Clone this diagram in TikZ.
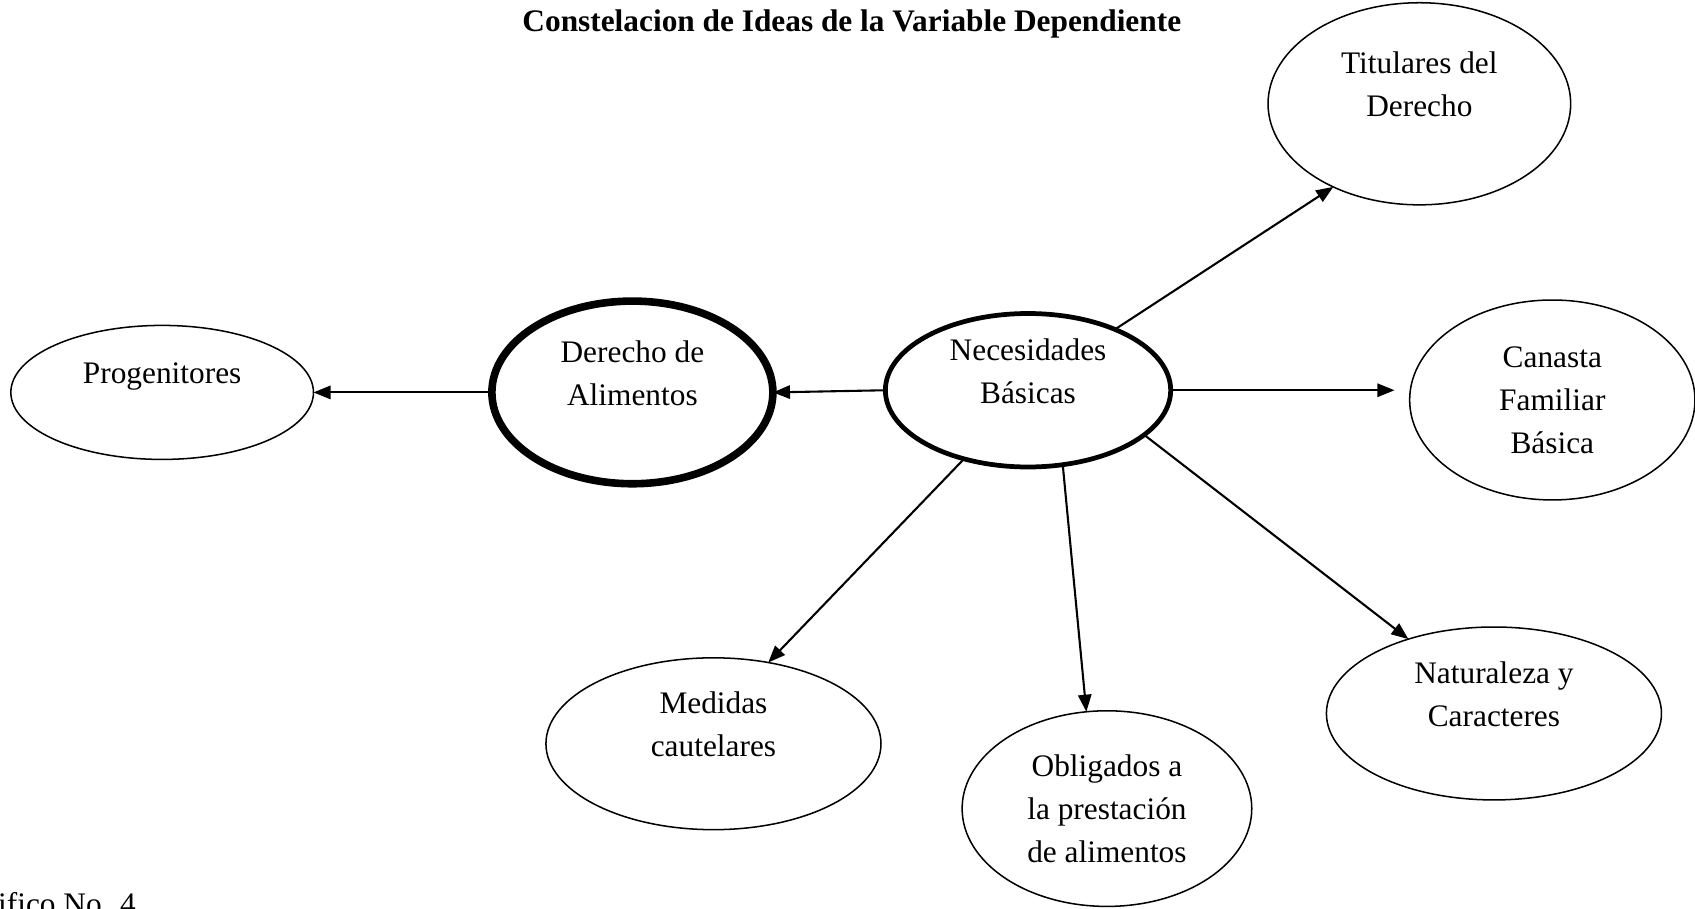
\documentclass[tikz,border=0pt]{standalone}
\usepackage{fontspec}
\setmainfont{Liberation Serif}
\usetikzlibrary{arrows.meta}
\usetikzlibrary{shapes.geometric}

\tikzset{
  idea/.style={draw,ellipse,inner sep=0pt,outer sep=0pt,line width=0.8pt,align=center,
    font=\fontsize{16.5}{22.7}\selectfont},
  link/.style={-{Triangle[length=9pt,width=7pt]},line width=1.1pt}
}

\begin{document}
\begin{tikzpicture}[x=0.02cm,y=-0.02cm]
\useasboundingbox (0, 0) rectangle (1568, 840);
\clip (0, 0) rectangle (1568, 840);
\node(title) at (788, 22) {\fontsize{16.5}{22.7}\selectfont\bfseries Constelacion de Ideas de la Variable Dependiente};

\node[idea,minimum width=5.6cm,minimum height=2.48cm](prog) at (150, 363) {Progenitores\\[-9pt]\strut};
\node[idea,minimum width=5.2cm,minimum height=3.38cm,line width=4pt](der) at (585, 363) {Derecho de\\Alimentos\\[-9pt]\strut};
\node[idea,minimum width=5.28cm,minimum height=2.84cm,line width=2.5pt](nb) at (951, 361) {Necesidades\\Básicas\\[-9pt]\strut};
\node[idea,minimum width=5.6cm,minimum height=3.74cm](tit) at (1313, 96) {Titulares del\\Derecho\\[-9pt]\strut};
\node[idea,minimum width=5.28cm,minimum height=3.7cm](can) at (1436, 370) {Canasta\\Familiar\\Básica};
\node[idea,minimum width=6.2cm,minimum height=3.2cm](nat) at (1382, 660) {Naturaleza y\\Caracteres\\[-9pt]\strut};
\node[idea,minimum width=6.2cm,minimum height=3.18cm](med) at (660, 688) {Medidas\\cautelares\\[-9pt]\strut};
\node[idea,minimum width=5.36cm,minimum height=3.62cm](obl) at (1024, 748) {Obligados a\\la prestación\\de alimentos};

\node[anchor=base west,inner sep=0pt,font=\fontsize{16.5}{22.7}\selectfont](graf) at (-2, 846) {ifico No. 4};

\draw[link] (der.west)--(prog.east);
\draw[link] (nb.west)--(der.east);
\draw[link] (nb.35)--(tit.224);
\draw[link,shorten >=0.28cm] (nb.east)--(nb.east -| can.west);
\draw[link] (nb.339)--(nat.139);
\draw[link] (nb.295)--(obl.102);
\draw[link] (nb.227)--(med.56);
\end{tikzpicture}
\end{document}
